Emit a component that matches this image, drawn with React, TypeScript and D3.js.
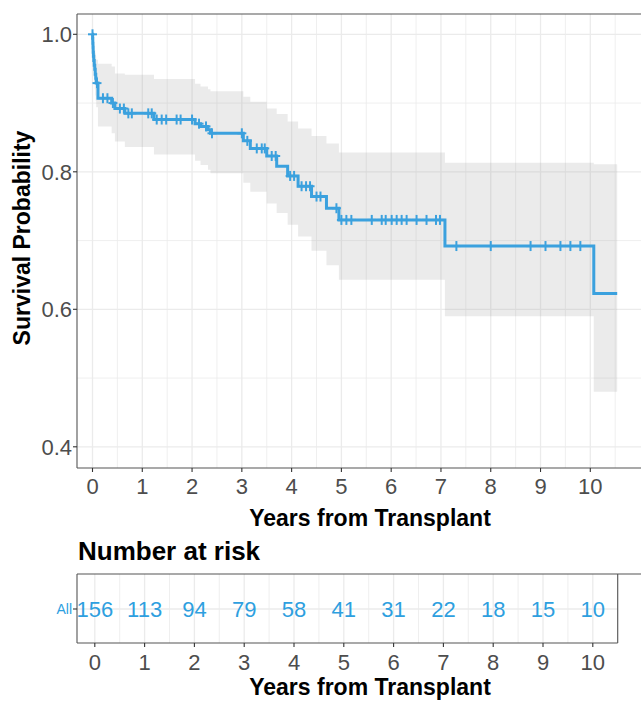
import React from 'react';
import * as d3 from 'd3';

const W = 641;
const H = 701;

// Kaplan-Meier step function: value holds from stepTimes[i] until stepTimes[i+1]
const stepTimes = [0, 0.003, 0.006, 0.010, 0.013, 0.018, 0.025, 0.035, 0.045, 0.055, 0.065, 0.075, 0.11, 0.385, 0.45, 0.65, 1.235, 2.06, 2.17, 2.32, 2.37, 3.03, 3.17, 3.50, 3.70, 3.92, 4.13, 4.40, 4.70, 4.95, 7.08, 10.07];
const survival = [1.0, 0.994, 0.987, 0.981, 0.974, 0.968, 0.962, 0.955, 0.949, 0.942, 0.936, 0.929, 0.907, 0.900, 0.892, 0.885, 0.876, 0.870, 0.866, 0.861, 0.856, 0.845, 0.834, 0.823, 0.808, 0.794, 0.779, 0.764, 0.747, 0.730, 0.692, 0.623];
const upperCI = [1.0, 1.0, 0.998, 0.995, 0.992, 0.989, 0.985, 0.981, 0.977, 0.973, 0.968, 0.963, 0.957, 0.953, 0.943, 0.941, 0.935, 0.928, 0.924, 0.920, 0.917, 0.909, 0.902, 0.892, 0.884, 0.873, 0.863, 0.852, 0.841, 0.828, 0.813, 0.811];
const lowerCI = [1.0, 0.982, 0.972, 0.963, 0.955, 0.946, 0.938, 0.929, 0.920, 0.911, 0.903, 0.894, 0.866, 0.856, 0.844, 0.836, 0.825, 0.816, 0.810, 0.803, 0.798, 0.784, 0.771, 0.754, 0.740, 0.723, 0.706, 0.685, 0.664, 0.643, 0.590, 0.480];
const endTime = 10.54;

const censorTimes = [0, 0.09, 0.21, 0.30, 0.41, 0.55, 0.63, 0.72, 0.79, 1.12, 1.19, 1.29, 1.39, 1.48, 1.69, 1.77, 2.00, 2.14, 2.28, 2.40, 3.00, 3.11, 3.30, 3.40, 3.46, 3.60, 3.68, 3.97, 4.05, 4.20, 4.29, 4.37, 4.50, 4.58, 4.90, 5.00, 5.10, 5.20, 5.61, 5.81, 5.89, 6.01, 6.11, 6.21, 6.31, 6.51, 6.71, 6.90, 6.98, 7.31, 8.00, 8.80, 9.10, 9.40, 9.60, 9.80];

const xTicks = [0, 1, 2, 3, 4, 5, 6, 7, 8, 9, 10];
const xMinor = [0.5, 1.5, 2.5, 3.5, 4.5, 5.5, 6.5, 7.5, 8.5, 9.5, 10.5];
const yTicks = [0.4, 0.6, 0.8, 1.0];
const yMinor = [0.5, 0.7, 0.9];

const riskTimes = [0, 1, 2, 3, 4, 5, 6, 7, 8, 9, 10];
const riskCounts = [156, 113, 94, 79, 58, 41, 31, 22, 18, 15, 10];

const BLUE = '#3BA1DE';
const RISK_BLUE = '#2E9FDF';
const GRID = '#EBEBEB';
const TICK_TXT = '#4D4D4D';
const BORDER = '#555555';
const FONT = "'Liberation Sans', Arial, sans-serif";

function survAt(t: number): number {
  let v = survival[0];
  for (let i = 0; i < stepTimes.length; i++) {
    if (stepTimes[i] <= t) v = survival[i];
  }
  return v;
}

export default function App() {
  // main panel
  const pL = 77, pT = 14, pB = 468, pR = 700;
  const x = d3.scaleLinear().domain([0, 10]).range([92.5, 590.3]);
  const y = d3.scaleLinear().domain([0.4, 1.0]).range([446.8, 34.3]);

  // table panel
  const tL = 77, tT = 574, tB = 643, tR = 617.7;
  const xt = d3.scaleLinear().domain([0, 10]).range([94.8, 592.8]);
  const rowY = 609;

  const stepData = stepTimes.map((t, i) => ({ t, s: survival[i], u: upperCI[i], l: lowerCI[i] }));
  const withEnd = [...stepData, { t: endTime, s: survival[survival.length - 1], u: upperCI[upperCI.length - 1], l: lowerCI[lowerCI.length - 1] }];

  const line = d3.line<any>().x(d => x(d.t)).y(d => y(d.s)).curve(d3.curveStepAfter);
  const area = d3.area<any>().x(d => x(d.t)).y0(d => y(d.l)).y1(d => y(d.u)).curve(d3.curveStepAfter);

  return (
    <svg width={W} height={H} style={{ position: 'absolute', left: 0, top: 0, background: '#fff' }} fontFamily={FONT}>
      <defs>
        <clipPath id="mainclip"><rect x={pL} y={pT} width={W - pL} height={pB - pT} /></clipPath>
      </defs>
      <rect x={0} y={0} width={W} height={H} fill="#fff" />
      {/* main panel grid */}
      <g clipPath="url(#mainclip)">
        {yMinor.map(v => <line key={'ym' + v} x1={pL} x2={pR} y1={y(v)} y2={y(v)} stroke={GRID} strokeWidth={0.8} />)}
        {yTicks.map(v => <line key={'yM' + v} x1={pL} x2={pR} y1={y(v)} y2={y(v)} stroke={GRID} strokeWidth={1.3} />)}
        {xMinor.map(v => <line key={'xm' + v} x1={x(v)} x2={x(v)} y1={pT} y2={pB} stroke={GRID} strokeWidth={0.8} />)}
        {xTicks.map(v => <line key={'xM' + v} x1={x(v)} x2={x(v)} y1={pT} y2={pB} stroke={GRID} strokeWidth={1.3} />)}
        <path d={area(withEnd) || ''} fill="#999999" fillOpacity={0.2} stroke="none" />
        <path d={line(withEnd) || ''} fill="none" stroke={BLUE} strokeWidth={3} />
        {censorTimes.map((t, i) => {
          const cx = x(t), cy = y(survAt(t));
          return (
            <g key={'c' + i} stroke={BLUE} strokeWidth={2}>
              <line x1={cx - 4.5} x2={cx + 4.5} y1={cy} y2={cy} />
              <line x1={cx} x2={cx} y1={cy - 5} y2={cy + 5} />
            </g>
          );
        })}
      </g>
      {/* main panel border */}
      <line x1={pL} x2={W} y1={pT} y2={pT} stroke={BORDER} strokeWidth={1.1} />
      <line x1={pL} x2={W} y1={pB} y2={pB} stroke={BORDER} strokeWidth={1.1} />
      <line x1={pL} x2={pL} y1={pT} y2={pB} stroke={BORDER} strokeWidth={1.1} />
      {/* y axis */}
      {yTicks.map(v => (
        <g key={'yt' + v}>
          <line x1={pL - 4} x2={pL} y1={y(v)} y2={y(v)} stroke="#333" strokeWidth={1.1} />
          <text x={pL - 5} y={y(v)} dy="0.36em" textAnchor="end" fontSize={22} fill={TICK_TXT}>{v.toFixed(1)}</text>
        </g>
      ))}
      {/* x axis */}
      {xTicks.map(v => (
        <g key={'xt' + v}>
          <line x1={x(v)} x2={x(v)} y1={pB} y2={pB + 4} stroke="#333" strokeWidth={1.1} />
          <text x={x(v)} y={486} dy="0.36em" textAnchor="middle" fontSize={22} fill={TICK_TXT}>{v}</text>
        </g>
      ))}
      <text x={370} y={518} dy="0.36em" textAnchor="middle" fontSize={23} fontWeight="bold" fill="#000">Years from Transplant</text>
      <text transform={`translate(22,${(pT + pB) / 2 - 3}) rotate(-90)`} dy="0.36em" textAnchor="middle" fontSize={23} fontWeight="bold" fill="#000">Survival Probability</text>

      {/* risk table */}
      <text x={78} y={551} dy="0.36em" textAnchor="start" fontSize={26} fontWeight="bold" fill="#000">Number at risk</text>
      {xMinor.map(v => <line key={'txm' + v} x1={xt(v)} x2={xt(v)} y1={tT} y2={tB} stroke={GRID} strokeWidth={0.8} />)}
      {xTicks.map(v => <line key={'txM' + v} x1={xt(v)} x2={xt(v)} y1={tT} y2={tB} stroke={GRID} strokeWidth={1.3} />)}
      <line x1={tL} x2={tR} y1={rowY} y2={rowY} stroke={GRID} strokeWidth={1.3} />
      {riskTimes.map((t, i) => (
        <text key={'r' + i} x={xt(t)} y={rowY} dy="0.36em" textAnchor="middle" fontSize={22} fill={RISK_BLUE}>{riskCounts[i]}</text>
      ))}
      <line x1={tL} x2={W} y1={tT} y2={tT} stroke={BORDER} strokeWidth={1.1} />
      <line x1={tL} x2={tR} y1={tB} y2={tB} stroke={BORDER} strokeWidth={1.1} />
      <line x1={tL} x2={tL} y1={tT} y2={tB} stroke={BORDER} strokeWidth={1.1} />
      <line x1={tR} x2={tR} y1={tT} y2={tB} stroke={BORDER} strokeWidth={1.1} />
      <line x1={tL - 4} x2={tL} y1={rowY} y2={rowY} stroke="#333" strokeWidth={1.1} />
      <text x={tL - 5} y={rowY} dy="0.36em" textAnchor="end" fontSize={14} fill={RISK_BLUE}>All</text>
      {xTicks.map(v => (
        <g key={'txt' + v}>
          <line x1={xt(v)} x2={xt(v)} y1={tB} y2={tB + 4} stroke="#333" strokeWidth={1.1} />
          <text x={xt(v)} y={662} dy="0.36em" textAnchor="middle" fontSize={22} fill={TICK_TXT}>{v}</text>
        </g>
      ))}
      <text x={370} y={687} dy="0.36em" textAnchor="middle" fontSize={23} fontWeight="bold" fill="#000">Years from Transplant</text>
    </svg>
  );
}
